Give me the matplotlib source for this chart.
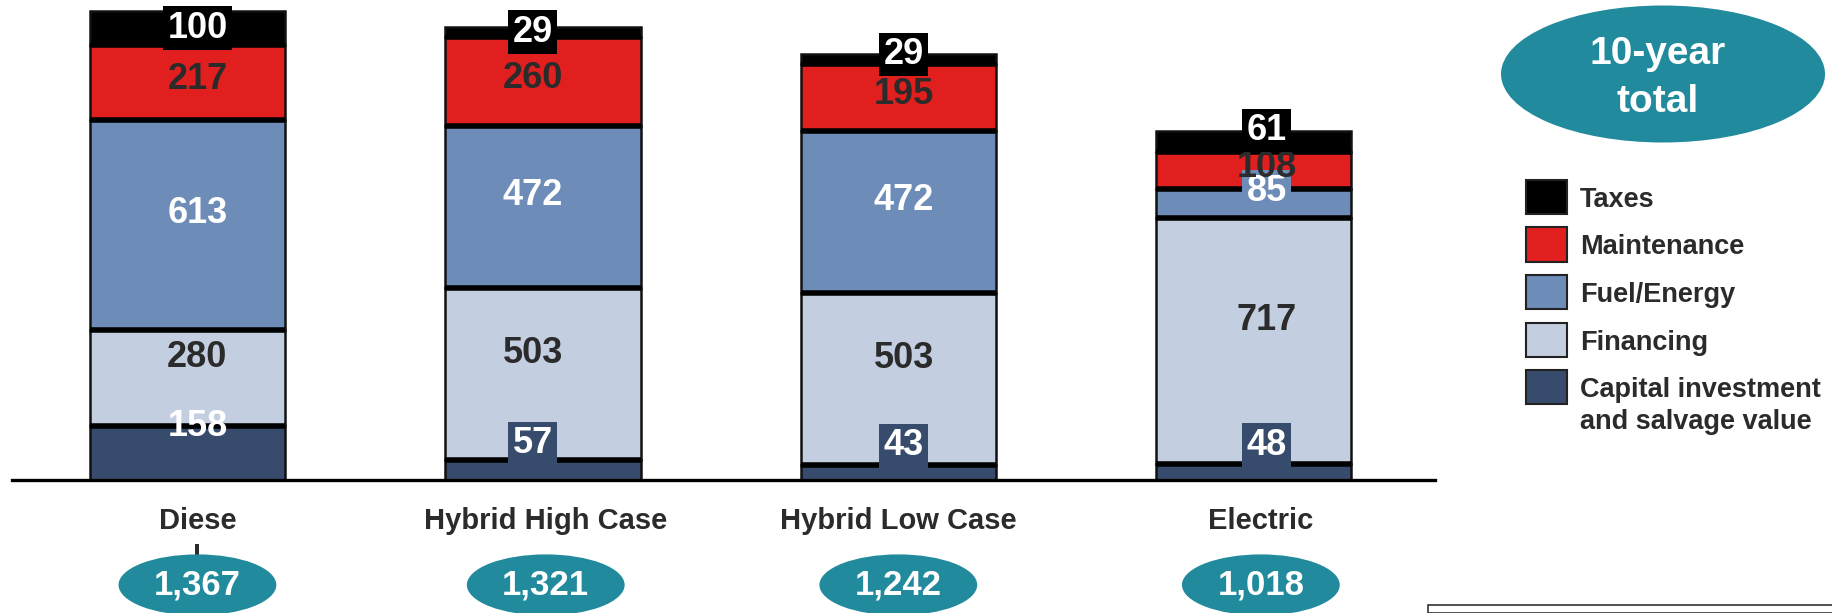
import matplotlib.pyplot as plt
from matplotlib.patches import Ellipse, Rectangle

plt.rcParams["font.family"] = ["Liberation Sans", "DejaVu Sans"]
plt.rcParams["font.weight"] = "bold"

# data (bottom to top of each stack)
categories = ["Diese\nl", "Hybrid High Case", "Hybrid Low Case", "Electric"]
totals = ["1,367", "1,321", "1,242", "1,018"]
capital = [158, 57, 43, 48]
financing = [280, 503, 503, 717]
fuel = [613, 472, 472, 85]
maintenance = [217, 260, 195, 108]
taxes = [100, 29, 29, 61]
series_names = ["Capital investment\nand salvage value", "Financing",
                "Fuel/Energy", "Maintenance", "Taxes"]

colors = ["#374C6C", "#C3CEE0", "#6D8CB8", "#E11F1E", "#000000"]
text_colors = ["white", "#2B2B2B", "white", "#2B2B2B", "white"]
DARK = "#2B2B2B"
TEAL = "#218A9C"

W, H = 1832, 613
fig = plt.figure(figsize=(W / 100, H / 100), dpi=100)
ax = fig.add_axes([12 / W, (H - 480) / H, (1435 - 12) / W, 480 / H])

x = list(range(len(categories)))
bar_w = 0.55
series = [capital, financing, fuel, maintenance, taxes]

# label placement tweaks (data units)
label_dy = [78, 60, 33, 8, 0]
tax_shift = [0, 0, 14, 31]
label_dx = [0.028, -0.028, 0.015, 0.037]
cap_box = [False, True, True, True]
cat_dx = [0.028, 0.008, 0.0, 0.02]

bottom = [0] * len(x)
for s, vals in enumerate(series):
    ax.bar(x, vals, bar_w, bottom=bottom, color=colors[s],
           edgecolor="#111111", linewidth=1.8, zorder=2)
    # thick black separators between the stacked pieces
    if s > 0:
        ax.hlines(bottom, [xi - bar_w / 2 for xi in x],
                  [xi + bar_w / 2 for xi in x], color="black",
                  linewidth=4, zorder=2.5)
    for i, v in enumerate(vals):
        y = bottom[i] + v / 2 + label_dy[s]
        if s == 4:
            y += tax_shift[i]
        box = None
        if s == 4 or s == 2 or (s == 0 and cap_box[i]):
            box = dict(boxstyle="square,pad=0.12", fc=colors[s], ec="none")
        ax.text(x[i] + label_dx[i], y, str(v), ha="center", va="center",
                fontsize=26, color=text_colors[s], bbox=box, zorder=3 + s)
    bottom = [b + v for b, v in zip(bottom, vals)]

ax.set_xlim(-0.4937, 3.51)
ax.set_ylim(0, 1400)
for side in ["left", "right", "top"]:
    ax.spines[side].set_visible(False)
ax.spines["bottom"].set_linewidth(2.4)
ax.set_xticks([])
ax.set_yticks([])

# category names and total ovals below the axis
for i, name in enumerate(categories):
    ax.text(x[i] + cat_dx[i], -80, name, ha="center", va="top",
            fontsize=21, color=DARK, clip_on=False, linespacing=1.4)
    ax.add_patch(Ellipse((x[i] + cat_dx[i], -306), 0.444, 178, fc=TEAL,
                         ec="none", clip_on=False, zorder=5))
    ax.text(x[i] + cat_dx[i], -306, totals[i], ha="center", va="center",
            fontsize=25, color="white", clip_on=False, zorder=6)


def fx(px):
    return px / W


def fy(py):
    return 1 - py / H


# "10-year total" oval
fig.patches.append(Ellipse((fx(1663), fy(74)), 324 / W, 137 / H, fc=TEAL,
                           ec="none", transform=fig.transFigure))
fig.text(fx(1658), fy(78), "10-year\ntotal", ha="center", va="center",
         fontsize=28, color="white", linespacing=1.4)

# legend (top to bottom: Taxes first)
for k, s in enumerate(reversed(range(len(series_names)))):
    yc = 197 + k * 47.5
    fig.patches.append(Rectangle((fx(1526), fy(yc + 17)), 41 / W, 34 / H,
                                 fc=colors[s], ec="#222222", lw=1.5,
                                 transform=fig.transFigure))
    if "\n" in series_names[s]:
        fig.text(fx(1580), fy(yc - 10), series_names[s], ha="left",
                 va="top", fontsize=19.5, color=DARK, linespacing=1.3)
    else:
        fig.text(fx(1580), fy(yc + 10), series_names[s], ha="left",
                 va="baseline", fontsize=19.5, color=DARK)

# box edge in the lower right corner
fig.patches.append(Rectangle((fx(1428), 0), 420 / W, (H - 605) / H,
                             fc="none", ec="#333333", lw=1.2,
                             transform=fig.transFigure))

fig.savefig("out.png", dpi=100)
